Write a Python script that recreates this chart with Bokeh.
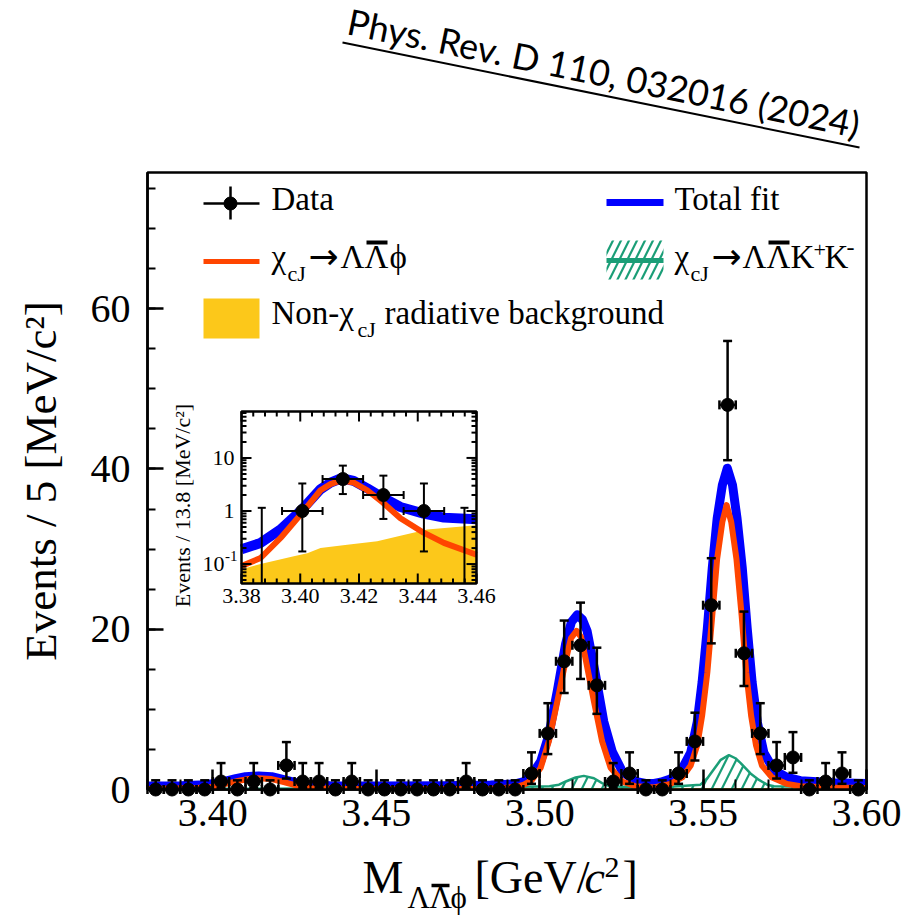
import math
from bokeh.plotting import figure
from bokeh.models import Range1d, LogScale, SingleIntervalTicker, PrintfTickFormatter
from bokeh.core.properties import value
from bokeh.embed import file_html
from bokeh.resources import INLINE

# ---------------- data ----------------
mass_lo, mass_hi, bin_w = 3.38, 3.60, 0.005
counts = [0, 0, 0, 0, 1, 0, 1, 0, 3, 1,
          1, 0, 1, 0, 0, 0, 0, 0, 0, 1,
          0, 0, 0, 2, 7, 16, 18, 13, 1, 2,
          0, 0, 2, 6, 23, 48, 17, 7, 3, 4,
          0, 1, 2, 0]

total_x = [3.380, 3.390, 3.398, 3.403, 3.407, 3.410, 3.414, 3.418, 3.422, 3.426,
           3.430, 3.436, 3.450, 3.470, 3.485, 3.4926, 3.4952, 3.4977, 3.5003, 3.5028,
           3.5054, 3.5079, 3.5097, 3.5115, 3.5131, 3.5145, 3.5171, 3.5196, 3.5222, 3.5253,
           3.5293, 3.5324, 3.535, 3.537, 3.540, 3.5436, 3.5462, 3.5482, 3.5497, 3.5513,
           3.5528, 3.5543, 3.5559, 3.5574, 3.5590, 3.5604, 3.5620, 3.5635, 3.5650, 3.5666,
           3.5686, 3.5717, 3.5757, 3.5798, 3.590, 3.600]
total_y = [0.45, 0.48, 0.6, 0.95, 1.35, 1.6, 1.7, 1.6, 1.2, 0.8,
           0.55, 0.47, 0.45, 0.47, 0.55, 0.7, 1.0, 1.9, 3.5, 6.8,
           12.3, 18.1, 20.9, 21.8, 21.2, 19.8, 14.3, 8.5, 4.75, 2.25,
           1.0, 0.75, 0.75, 0.9, 1.3, 2.6, 4.6, 8.4, 13.4, 20.1,
           27.6, 33.8, 38.0, 40.1, 38.0, 33.8, 27.6, 20.1, 13.4, 8.4,
           4.6, 2.4, 1.5, 1.1, 0.85, 0.75]

phi_x = [3.380, 3.395, 3.400, 3.404, 3.408, 3.411, 3.414, 3.418, 3.422, 3.426,
         3.430, 3.440, 3.470, 3.485, 3.4926, 3.4952, 3.4977, 3.5003, 3.5028, 3.5054,
         3.5079, 3.5096, 3.5113, 3.5127, 3.5140, 3.5166, 3.5191, 3.5217, 3.5253, 3.5293,
         3.535, 3.540, 3.5436, 3.5462, 3.5482, 3.5497, 3.5513, 3.5528, 3.5543, 3.5559,
         3.5572, 3.5586, 3.5602, 3.5618, 3.5632, 3.5647, 3.5662, 3.5680, 3.5711, 3.5757,
         3.5798, 3.590, 3.600]
phi_y = [0.05, 0.2, 0.3, 0.7, 1.1, 1.3, 1.4, 1.3, 0.9, 0.46,
         0.2, 0.08, 0.05, 0.1, 0.3, 0.6, 1.2, 2.7, 6.0, 11.0,
         16.0, 18.9, 19.8, 19.0, 16.4, 11.0, 6.0, 2.7, 1.0, 0.4,
         0.25, 0.7, 1.5, 3.0, 5.5, 9.2, 14.6, 21.7, 28.8, 33.4,
         35.5, 33.4, 28.8, 21.7, 14.6, 9.2, 5.5, 3.0, 1.5, 0.7,
         0.4, 0.25, 0.2]

kk_x = [3.380, 3.450, 3.490, 3.503, 3.5059, 3.508, 3.5110, 3.5135, 3.5166, 3.5191,
        3.5211, 3.525, 3.540, 3.5492, 3.5513, 3.5528, 3.5554, 3.5579, 3.5599, 3.5615,
        3.5645, 3.5671, 3.5696, 3.5717, 3.585, 3.600]
kk_y = [0.05, 0.15, 0.3, 0.4, 0.6, 1.0, 1.5, 1.7, 1.4, 0.8,
        0.46, 0.35, 0.35, 0.6, 1.4, 2.25, 3.7, 4.3, 3.9, 3.3,
        2.0, 1.2, 0.6, 0.4, 0.3, 0.3]

bkg_x = [3.38, 3.42, 3.46, 3.50, 3.54, 3.58, 3.60]
bkg_y = [0.04, 0.06, 0.09, 0.12, 0.15, 0.17, 0.18]

# inset (log scale, 13.8 MeV bins)
inset_bin_w = 0.0138
inset_centers = [3.3869, 3.4007, 3.4145, 3.4283, 3.4421, 3.4559]
inset_counts = [0, 1, 4, 2, 1, 0]
inset_curve_x = [3.380, 3.3865, 3.3933, 3.4007, 3.4069, 3.4103, 3.4140, 3.4182, 3.4228,
                 3.4282, 3.4341, 3.4420, 3.4489, 3.4600]
inset_total_y = [0.19, 0.25, 0.45, 1.08, 2.57, 3.42, 4.14, 3.68, 2.68, 1.78, 1.19, 0.89, 0.75, 0.70]
inset_phi_y = [0.092, 0.13, 0.31, 0.93, 2.46, 3.2, 3.8, 3.42, 2.46, 1.43, 0.73, 0.39, 0.25, 0.15]
inset_bkg_x = [3.380, 3.3865, 3.3978, 3.4024, 3.4069, 3.4160, 3.4262, 3.4341, 3.4432, 3.4600]
inset_bkg_y = [0.08, 0.10, 0.14, 0.16, 0.20, 0.23, 0.27, 0.34, 0.45, 0.54]
inset_xticks = [3.38, 3.40, 3.42, 3.44, 3.46]
inset_xtick_labels = ["3.38", "3.40", "3.42", "3.44", "3.46"]
inset_yticks = [0.1, 1, 10]


def poisson_cdf(n, mu):
    term, s = math.exp(-mu), 0.0
    for k in range(n + 1):
        if k > 0:
            term *= mu / k
        s += term
    return s


def poisson_interval(n):
    """RooFit-style 68.3% Poisson interval (lower bound, upper bound)."""
    tail = 0.5 * (1 - math.erf(1 / math.sqrt(2)))
    if n == 0:
        return 0.0, -math.log(2 * tail)
    a, b = float(n), n + 10 * math.sqrt(n) + 10
    for _ in range(80):
        m = 0.5 * (a + b)
        if poisson_cdf(n, m) > tail:
            a = m
        else:
            b = m
    up = 0.5 * (a + b)
    a, b = 0.0, float(n)
    for _ in range(80):
        m = 0.5 * (a + b)
        if 1 - poisson_cdf(n - 1, m) < tail:
            a = m
        else:
            b = m
    return 0.5 * (a + b), up


# ---------------- style / layout ----------------
SERIF = "Liberation Serif"
BLUE, ORANGE, GREEN, YELLOW = "#0000ff", "#ff4500", "#1b9e77", "#fcc81a"

W, H = 912, 920
FL, FR, FT, FB = 147, 866, 172, 789          # main frame on the page
IL, IR, IT, IB = 241, 476, 411, 583          # inset frame on the page
IX0, IX1 = 3.38, 3.46
ILO, IHI = 0.043, 75.0

p = figure(width=W, height=H, x_range=Range1d(mass_lo, mass_hi), y_range=Range1d(0, 77),
           output_backend="svg", toolbar_location=None, title=None,
           min_border_left=FL, min_border_right=W - FR,
           min_border_top=FT, min_border_bottom=H - FB)
p.background_fill_color = "white"
p.border_fill_color = "white"
p.outline_line_color = "black"
p.outline_line_width = 2.5
p.xgrid.visible = False
p.ygrid.visible = False

xa, ya = p.xaxis[0], p.yaxis[0]
xa.ticker = SingleIntervalTicker(interval=0.05, num_minor_ticks=5)
xa.formatter = PrintfTickFormatter(format="%.2f")
ya.ticker = SingleIntervalTicker(interval=20, num_minor_ticks=4)
for ax in (xa, ya):
    ax.axis_line_color = "black"
    ax.axis_line_width = 2.5
    ax.major_tick_out = 0
    ax.minor_tick_out = 0
    ax.major_tick_line_width = 2.5
    ax.minor_tick_line_width = 2
    ax.major_tick_line_color = "black"
    ax.minor_tick_line_color = "black"
    ax.major_label_text_font = SERIF
    ax.major_label_text_font_size = "40px"
    ax.major_label_text_color = "black"
xa.major_tick_in = 20
xa.minor_tick_in = 10
ya.major_tick_in = 16
ya.minor_tick_in = 8
xa.major_label_standoff = 10
ya.major_label_standoff = 17
ya.axis_label = "Events / 5 [MeV/c²]"
ya.axis_label_text_font = SERIF
ya.axis_label_text_font_size = "45px"
ya.axis_label_text_font_style = "normal"
ya.axis_label_text_color = "black"
ya.axis_label_standoff = 22

# page-pixel coordinates and inset coordinates
s_ix = (IX1 - IX0) / (IR - IL)
k_iy = (math.log10(IHI) - math.log10(ILO)) / (IB - IT)
p.extra_x_ranges = {"px": Range1d(FL, FR),
                    "ix": Range1d(IX0 - (IL - FL) * s_ix, IX1 + (FR - IR) * s_ix)}
p.extra_y_ranges = {"py": Range1d(FB, FT),
                    "iy": Range1d(10 ** (math.log10(ILO) - (FB - IB) * k_iy),
                                  10 ** (math.log10(IHI) + (IT - FT) * k_iy))}
p.extra_y_scales = {"iy": LogScale()}
PX = dict(x_range_name="px", y_range_name="py")
INS = dict(x_range_name="ix", y_range_name="iy")

# ---------------- main plot ----------------
p.varea(x=bkg_x, y1=0, y2=bkg_y, fill_color=YELLOW)
p.varea(x=kk_x, y1=0, y2=kk_y, fill_alpha=0, hatch_pattern="/", hatch_color=GREEN,
        hatch_weight=2.2, hatch_scale=20)
p.line(kk_x, kk_y, line_color=GREEN, line_width=2.5)
p.line(total_x, total_y, line_color=BLUE, line_width=9, line_join="round")
p.line(phi_x, phi_y, line_color=ORANGE, line_width=6, line_join="round")

centers = [mass_lo + bin_w * (i + 0.5) for i in range(len(counts))]
iv = [poisson_interval(n) for n in counts]
lows = [a for a, b in iv]
ups = [b for a, b in iv]
xl = [c - bin_w / 2 for c in centers]
xu = [c + bin_w / 2 for c in centers]
EB = dict(line_color="black", line_width=2.5, level="overlay")
p.segment(x0=centers, y0=lows, x1=centers, y1=ups, **EB)
p.segment(x0=xl, y0=counts, x1=xu, y1=counts, **EB)
p.scatter(centers + centers, lows + ups, marker="dash", size=9, **EB)
p.scatter(xl + xu, counts + counts, marker="dash", size=9, angle=math.pi / 2, **EB)
p.scatter(centers, counts, size=13, color="black", level="overlay")

# ---------------- inset ----------------
p.quad(left=[IX0], right=[IX1], bottom=[ILO], top=[IHI], fill_color="white", line_color=None, **INS)
p.varea(x=inset_bkg_x, y1=ILO, y2=inset_bkg_y, fill_color=YELLOW, **INS)
p.line(inset_curve_x, inset_total_y, line_color=BLUE, line_width=10, **INS)
p.line(inset_curve_x, inset_phi_y, line_color=ORANGE, line_width=6, **INS)

ivi = [poisson_interval(n) for n in inset_counts]
nz = [i for i, n in enumerate(inset_counts) if n > 0]
zz = [i for i, n in enumerate(inset_counts) if n == 0]
cx = [inset_centers[i] for i in nz]
cy = [inset_counts[i] for i in nz]
clo = [ivi[i][0] for i in nz]
chi = [ivi[i][1] for i in nz]
ixl = [inset_centers[i] - inset_bin_w / 2 for i in nz]
ixu = [inset_centers[i] + inset_bin_w / 2 for i in nz]
zx = [inset_centers[i] for i in zz]
zhi = [ivi[i][1] for i in zz]
EBI = dict(line_color="black", line_width=2, **INS)
p.segment(x0=cx, y0=clo, x1=cx, y1=chi, **EBI)
p.segment(x0=zx, y0=ILO, x1=zx, y1=zhi, **EBI)
p.segment(x0=ixl, y0=cy, x1=ixu, y1=cy, **EBI)
p.scatter(cx + cx + zx, clo + chi + zhi, marker="dash", size=8, **EBI)
p.scatter(ixl + ixu, cy + cy, marker="dash", size=8, angle=math.pi / 2, **EBI)
p.scatter(cx, cy, size=13, color="black", **INS)

p.quad(left=[IX0], right=[IX1], bottom=[ILO], top=[IHI], fill_color=None,
       line_color="black", line_width=2.5, **INS)

TK = dict(line_color="black", line_width=2, angle_units="deg", length_units="screen", **INS)
x_minor = [round(IX0 + 0.004 * k, 4) for k in range(21)]
x_minor = [v for v in x_minor if all(abs(v - t) > 1e-6 for t in inset_xticks)]
p.ray(x=inset_xticks, y=ILO, length=10, angle=90, **TK)
p.ray(x=x_minor, y=ILO, length=5, angle=90, **TK)
p.ray(x=inset_xticks, y=IHI, length=10, angle=-90, **TK)
p.ray(x=x_minor, y=IHI, length=5, angle=-90, **TK)
y_minor = [m * 10.0 ** e for e in (-2, -1, 0, 1) for m in range(2, 10) if ILO < m * 10.0 ** e < IHI]
p.ray(x=IX0, y=inset_yticks, length=10, angle=0, **TK)
p.ray(x=IX0, y=y_minor, length=5, angle=0, **TK)
p.ray(x=IX1, y=inset_yticks, length=10, angle=180, **TK)
p.ray(x=IX1, y=y_minor, length=5, angle=180, **TK)

ITXT = dict(text_font=value(SERIF), text_font_size=value("22px"), text_color="black")
p.text(x=inset_xticks, y=ILO, text=inset_xtick_labels, y_offset=5, text_align="center",
       text_baseline="top", **ITXT, **INS)
p.text(x=IX0, y=inset_yticks[1:], text=["1", "10"], x_offset=-7, text_align="right",
       text_baseline="middle", **ITXT, **INS)
p.text(x=IX0, y=inset_yticks[:1], text=["10"], x_offset=-17, text_align="right",
       text_baseline="middle", **ITXT, **INS)
p.text(x=IX0, y=inset_yticks[:1], text=["-1"], x_offset=-4, y_offset=-8, text_align="right",
       text_baseline="middle", text_font=value(SERIF), text_font_size=value("15px"),
       text_color="black", **INS)
p.text(x=[182], y=[505], text=["Events / 13.8 [MeV/c²]"], angle=90, angle_units="deg",
       text_align="center", text_baseline="middle", **ITXT, **PX)


# ---------------- texts in page-pixel coordinates ----------------
def txt(x, y, s, size=33, style="normal", font=SERIF, angle=0.0, level="glyph"):
    # y is the wanted baseline; the renderer drops "alphabetic" text by ~0.4 em
    shift = 0.4 * size
    a = math.radians(angle)
    p.text(x=[x - shift * math.sin(a)], y=[y - shift * math.cos(a)], text=[s],
           text_font=value(font), text_font_size=value(f"{size}px"),
           text_font_style=style, text_color="black", text_align="left",
           text_baseline="alphabetic", angle=angle, angle_units="deg", level=level, **PX)


ARROW_FONT = "DejaVu Sans"

# legend
p.segment(x0=[203, 230], y0=[203, 186], x1=[259, 230], y1=[203, 219],
          line_color="black", line_width=2.5, **PX)
p.scatter([230], [203], size=13, color="black", **PX)
txt(271, 212, "Data")

p.segment(x0=[606], y0=[202], x1=[663], y1=[202], line_color=BLUE, line_width=7, **PX)
txt(674, 212, "Total fit")

p.segment(x0=[203], y0=[261], x1=[259], y1=[261], line_color=ORANGE, line_width=5, **PX)
txt(271, 270, "χ")
txt(287, 282, "cJ", 22)
txt(308, 270, "→", 36, font=ARROW_FONT)
txt(340, 270, "Λ")
txt(364, 270, "Λ")
txt(389, 270, "ϕ")
p.segment(x0=[366], y0=[242], x1=[387], y1=[242], line_color="black", line_width=4, **PX)

p.quad(left=[606], right=[663], top=[240], bottom=[279], fill_alpha=0, line_color=None,
       hatch_pattern="/", hatch_color=GREEN, hatch_weight=2.2, hatch_scale=16, **PX)
p.segment(x0=[606], y0=[260], x1=[663], y1=[260], line_color=GREEN, line_width=5, **PX)
txt(674, 270, "χ")
txt(690, 282, "cJ", 22)
txt(711, 270, "→", 36, font=ARROW_FONT)
txt(742, 270, "Λ")
txt(766, 270, "Λ")
p.segment(x0=[768], y0=[242], x1=[789], y1=[242], line_color="black", line_width=4, **PX)
txt(790, 270, "K")
txt(813, 258, "+", 22)
txt(824, 270, "K")
txt(846, 257, "-", 24)

p.quad(left=[203], right=[259], top=[298], bottom=[338], fill_color=YELLOW, line_color=None, **PX)
txt(271, 326, "Non-χ")
txt(357, 338, "cJ", 22)
txt(384, 326, "radiative background")

# x-axis title (outside the frame)
txt(362, 895, "M", 46, level="overlay")
txt(407, 909, "Λ", 31, level="overlay")
txt(429, 909, "Λ", 31, level="overlay")
txt(450, 909, "ϕ", 31, level="overlay")
p.segment(x0=[431], y0=[885], x1=[449], y1=[885], line_color="black", line_width=3.5,
          level="overlay", **PX)
txt(474, 895, "[GeV/", 46, level="overlay")
txt(584, 895, "c", 46, "italic", level="overlay")
txt(604, 879, "2", 30, level="overlay")
txt(622, 895, "]", 46, level="overlay")

# journal stamp
txt(345, 34, "Phys. Rev. D 110, 032016 (2024)", 36, font="Lato", angle=-11.5, level="overlay")
p.segment(x0=[342], y0=[42], x1=[859], y1=[147], line_color="black", line_width=2,
          level="overlay", **PX)

open("out.html", "w").write(file_html(p, INLINE))
